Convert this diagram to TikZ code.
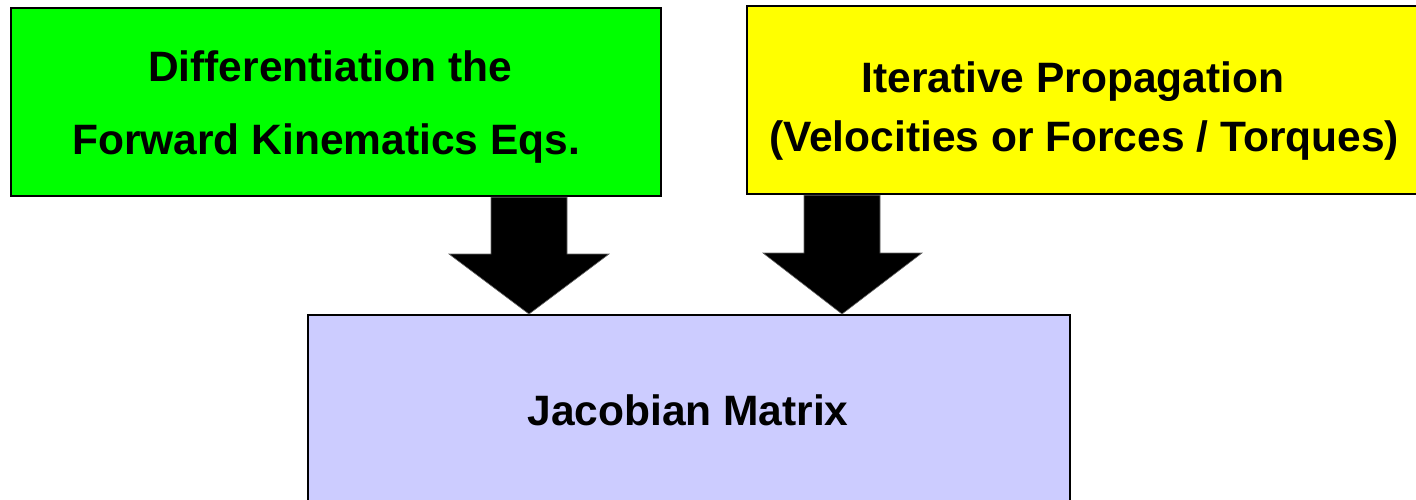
\documentclass[tikz,border=0pt]{standalone}
\usepackage{fontspec}
\setmainfont{Liberation Sans}
\definecolor{boxgreen}{HTML}{00FF00}
\definecolor{boxyellow}{HTML}{FFFF00}
\definecolor{boxblue}{HTML}{CCCCFF}
\begin{document}
\begin{tikzpicture}[x=1pt,y=-1pt,
  box/.style={draw=black,line width=2.2pt,anchor=north west,inner sep=0pt},
  lbl/.style={font=\fontsize{42.5}{50}\selectfont\bfseries,anchor=base,inner sep=0pt},
  blockarrow/.style={fill=black,draw=black!60,line width=0.6pt,line join=miter}]
\useasboundingbox (0,0) rectangle (1416,499);
\node[box,fill=boxgreen,minimum width=650pt,minimum height=188pt] (g) at (10,7) {};
\node[box,fill=boxyellow,minimum width=680pt,minimum height=188pt] (y) at (746,5) {};
\node[box,fill=boxblue,minimum width=762pt,minimum height=200pt] (j) at (307,314) {};
\node[lbl] (g1) at (330,81) {Differentiation the};
\node[lbl] (g2) at (326,154) {Forward Kinematics Eqs.};
\node[lbl] (y1) at (1073,92) {Iterative Propagation};
\node[lbl] (y2) at (1084,151) {(Velocities or Forces / Torques)};
\node[lbl] (j1) at (688,425) {Jacobian Matrix};
% block arrows
\coordinate (a1s) at (g.south -| 529,0);
\coordinate (a1t) at (j.north -| 529,0);
\fill[blockarrow] (491,0 |- a1s) -- (567,0 |- a1s) -- (567,254) -- (609,254) -- (a1t) -- (449,254) -- (491,254) -- cycle;
\coordinate (a2s) at (y.south -| 842,0);
\coordinate (a2t) at (j.north -| 842,0);
\fill[blockarrow] (804,0 |- a2s) -- (880,0 |- a2s) -- (880,253) -- (922,253) -- (a2t) -- (763,253) -- (804,253) -- cycle;
\end{tikzpicture}
\end{document}
